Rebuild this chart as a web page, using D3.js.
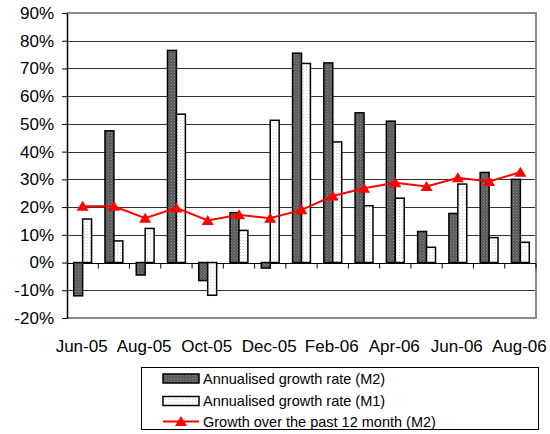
<!DOCTYPE html>
<html lang="en">
<head>
<meta charset="UTF-8">
<title>Money growth</title>
<script src="https://d3js.org/d3.v7.min.js"></script>
<style>
body { margin: 0; background: #fff; font-family: Arial, "Liberation Sans", sans-serif; }
svg { display: block; }
</style>
</head>
<body>
<svg width="550" height="434"></svg>
<script>
// chart data
const months = ["Jun-05","Jul-05","Aug-05","Sep-05","Oct-05","Nov-05","Dec-05",
                "Jan-06","Feb-06","Mar-06","Apr-06","May-06","Jun-06","Jul-06","Aug-06"];
const m2Rate = [-12, 47.5, -4.5, 76.5, -6.5, 18, -2, 75.5, 72, 54, 51, 11.2, 17.7, 32.5, 30];
const m1Rate = [15.7, 7.8, 12.3, 53.5, -11.8, 11.6, 51.3, 71.8, 43.5, 20.5, 23.2, 5.5, 28.3, 9, 7.3];
const m2Yearly = [20.3, 20.3, 16, 19.7, 15.2, 17.2, 16, 19, 24, 26.8, 28.8, 27.4, 30.6, 29.2, 32.6];
const yTicks = [-20, -10, 0, 10, 20, 30, 40, 50, 60, 70, 80, 90];
const labelMonths = months.filter((d, i) => i % 2 === 0);
const legendLabels = ["Annualised growth rate (M2)", "Annualised growth rate (M1)",
                      "Growth over the past 12 month (M2)"];

const svg = d3.select("svg");
const plotL = 67, plotR = 536, plotT = 13, plotB = 318;

const x = d3.scaleBand().domain(months).range([plotL, plotR]);
const y = d3.scaleLinear().domain([-20, 90]).range([plotB, plotT]);

// fill patterns for the bars
const defs = svg.append("defs");
const pDark = defs.append("pattern").attr("id", "dark")
    .attr("patternUnits", "userSpaceOnUse").attr("width", 3).attr("height", 3);
pDark.append("rect").attr("width", 3).attr("height", 3).attr("fill", "#5a5a5a");
pDark.append("rect").attr("width", 1).attr("height", 1).attr("fill", "#8c8c8c");
pDark.append("rect").attr("x", 1.5).attr("y", 1.5).attr("width", 1).attr("height", 1).attr("fill", "#7a7a7a");
const pLight = defs.append("pattern").attr("id", "light")
    .attr("patternUnits", "userSpaceOnUse").attr("width", 3).attr("height", 3);
pLight.append("rect").attr("width", 3).attr("height", 3).attr("fill", "#fff");
pLight.append("rect").attr("width", 1).attr("height", 1).attr("fill", "#cfcfcf");

// gridlines
svg.append("g")
  .selectAll("line")
  .data(yTicks.filter(d => d > -20 && d < 90))
  .enter().append("line")
    .attr("x1", plotL).attr("x2", plotR)
    .attr("y1", d => Math.round(y(d)) + 0.5).attr("y2", d => Math.round(y(d)) + 0.5)
    .attr("stroke", "#333").attr("stroke-width", 1);

// plot frame (top, right, bottom)
svg.append("path")
    .attr("d", `M${plotL},${plotT}H${plotR}V${plotB}H${plotL}`)
    .attr("fill", "none").attr("stroke", "#8a8a8a").attr("stroke-width", 2);

// y axis
const yAxis = svg.append("g")
    .attr("transform", `translate(${plotL},0)`)
    .call(d3.axisLeft(y).tickValues(yTicks).tickFormat(d => d + "%").tickSize(5).tickSizeOuter(0));
yAxis.select(".domain").attr("stroke", "#000").attr("stroke-width", 1.5);
yAxis.selectAll(".tick line").attr("stroke", "#000");
yAxis.selectAll("text").attr("font-size", 17).attr("fill", "#000")
    .attr("font-family", "Arial, 'Liberation Sans', sans-serif").attr("x", -13);

// category axis on the zero line
const y0 = Math.round(y(0)) + 0.5;
svg.append("line").attr("x1", plotL).attr("x2", plotR).attr("y1", y0).attr("y2", y0)
    .attr("stroke", "#000").attr("stroke-width", 1.2);
svg.append("g")
  .selectAll("line")
  .data(months)
  .enter().append("line")
    .attr("x1", d => x(d) + x.step()).attr("x2", d => x(d) + x.step())
    .attr("y1", y0).attr("y2", y0 + 5)
    .attr("stroke", "#000");

svg.append("g")
  .selectAll("text")
  .data(labelMonths)
  .enter().append("text")
    .attr("x", d => x(d) + x.bandwidth() / 2 - 1)
    .attr("y", 352)
    .attr("text-anchor", "middle")
    .attr("font-size", 17)
    .text(d => d);

// bars
const bw = x.bandwidth() / 3.5;
function drawBars(values, fill, offset) {
  svg.append("g")
    .selectAll("rect")
    .data(values)
    .enter().append("rect")
      .attr("x", (d, i) => x(months[i]) + x.bandwidth() / 2 + offset * bw)
      .attr("y", d => y(Math.max(0, d)))
      .attr("width", bw)
      .attr("height", d => Math.abs(y(d) - y(0)))
      .attr("fill", fill)
      .attr("stroke", "#000")
      .attr("stroke-width", 1.5);
}
drawBars(m2Rate, "url(#dark)", -1);
drawBars(m1Rate, "url(#light)", 0);

// 12 month growth line
const cx = (d, i) => x(months[i]) + x.bandwidth() / 2;
svg.append("path")
    .datum(m2Yearly)
    .attr("fill", "none").attr("stroke", "#ff0000").attr("stroke-width", 2)
    .attr("d", d3.line().x(cx).y(d => y(d)));
const tri = "M0,-5.5L6,4.5L-6,4.5Z";
svg.append("g")
  .selectAll("path")
  .data(m2Yearly)
  .enter().append("path")
    .attr("transform", (d, i) => `translate(${cx(d, i)},${y(d)})`)
    .attr("d", tri)
    .attr("fill", "#ff0000");

// legend
const lg = svg.append("g");
lg.append("rect").attr("x", 141.5).attr("y", 367.5).attr("width", 397).attr("height", 62)
    .attr("fill", "#fff").attr("stroke", "#000");
const rowY = [378.5, 401, 421.5];
lg.append("rect").attr("x", 163).attr("y", rowY[0] - 4.5).attr("width", 36).attr("height", 9)
    .attr("fill", "url(#dark)").attr("stroke", "#000").attr("stroke-width", 1.5);
lg.append("rect").attr("x", 163).attr("y", rowY[1] - 4.5).attr("width", 36).attr("height", 9)
    .attr("fill", "url(#light)").attr("stroke", "#000").attr("stroke-width", 1.5);
lg.append("line").attr("x1", 163).attr("x2", 199).attr("y1", rowY[2]).attr("y2", rowY[2])
    .attr("stroke", "#ff0000").attr("stroke-width", 2);
lg.append("path").attr("transform", `translate(181,${rowY[2]})`).attr("d", tri).attr("fill", "#ff0000");
lg.selectAll("text")
  .data(legendLabels)
  .enter().append("text")
    .attr("x", 203)
    .attr("y", (d, i) => rowY[i] + 5)
    .attr("font-size", 14.5)
    .text(d => d);
</script>
</body>
</html>
